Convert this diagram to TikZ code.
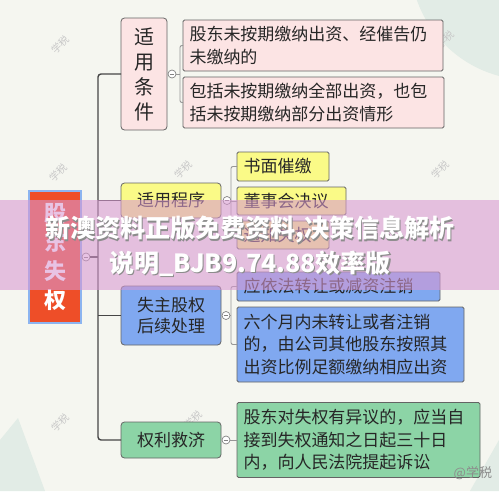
\documentclass[tikz,border=0pt]{standalone}
\usepackage{fontspec}
\setmainfont{Noto Sans CJK SC}
\definecolor{bgc}{RGB}{245,246,240}
\definecolor{boxline}{RGB}{100,100,100}
\definecolor{pinkc}{RGB}{252,228,228}
\definecolor{yellowc}{RGB}{250,250,135}
\definecolor{bluec}{RGB}{128,168,240}
\definecolor{greenc}{RGB}{140,212,166}
\definecolor{rootc}{RGB}{238,78,40}
\definecolor{rootb}{RGB}{140,180,240}
\definecolor{trunkc}{RGB}{70,70,70}
\definecolor{twigc}{RGB}{150,150,150}
\definecolor{knobc}{RGB}{130,130,130}
\definecolor{bannerc}{RGB}{217,152,209}
\definecolor{decoc}{RGB}{226,236,230}
\definecolor{wmc}{RGB}{200,200,200}
\begin{document}
\begin{tikzpicture}[x=1pt,y=-1pt,
  every node/.style={inner sep=0pt, outer sep=0pt},
  box/.style={draw=boxline, line width=0.8pt, rounded corners=1.5pt, anchor=north west},
  lvl/.style={box, rounded corners=3.5pt, align=center, font=\fontsize{17}{21}\selectfont, text=black!85},
  leaf/.style={box, align=left, inner xsep=6.5pt, font=\fontsize{17}{22.5}\selectfont, text=black!85},
  trunk/.style={draw=trunkc, line width=1.4pt, rounded corners=3pt},
  twig/.style={draw=twigc, line width=0.9pt, rounded corners=2pt},
  knob/.style={circle, draw=knobc, fill=white, line width=0.7pt, minimum size=8pt, inner sep=0pt,
    path picture={\draw[knobc, line width=0.6pt] ([xshift=-2.2pt]path picture bounding box.center) -- ([xshift=2.2pt]path picture bounding box.center);}},
  wm/.style={rotate=45, text=wmc, font=\fontsize{10}{10}\selectfont},
  banner/.style={text=white, font=\fontsize{25}{25}\selectfont\bfseries},
  bshadow/.style={text=black!45, font=\fontsize{25}{25}\selectfont\bfseries},
]
\useasboundingbox (0,0) rectangle (499,491);
\fill[bgc] (0,0) rectangle (499,491);
% decorative background shapes
\fill[decoc] (530,-40) circle (120);
\fill[decoc] (0,491) -- (0,440) -- (18,418) -- (45,491) -- cycle;
\fill[decoc] (470,491) -- (499,440) -- (499,491) -- cycle;
% watermarks
\node[wm] (w1) at (60,45) {学税};
\node[wm] (w2) at (58,173) {学税};
\node[wm] (w3) at (183,170) {学税};
\node[wm] (w4) at (440,170) {学税};
\node[wm] (w5) at (60,423) {学税};
\node[wm] (w6) at (193,420) {学税};
\node[wm] (w7) at (445,40) {学税};

% root
\node[box, fill=rootc, draw=rootb, line width=1.2pt, rounded corners=0pt,
  minimum width=52pt, minimum height=132pt, align=center, text=white,
  font=\fontsize{22}{29}\selectfont\bfseries] (root) at (29,191) {股\\东\\失\\权};

% level 1
\node[lvl, fill=pinkc, minimum width=46pt, minimum height=112pt,
  font=\fontsize{20}{25}\selectfont] (n1) at (121,18) {适\\用\\条\\件};
\node[lvl, fill=yellowc, minimum width=100pt, minimum height=35pt] (n2) at (121,183) {适用程序};
\node[lvl, fill=bluec, minimum width=100pt, minimum height=59pt] (n3) at (121,286) {失主股权\\后续处理};
\node[lvl, fill=greenc, minimum width=100pt, minimum height=36pt] (n4) at (121,422) {权利救济};

% leaves
\node[leaf, fill=pinkc, minimum width=260pt, text width=247pt, minimum height=51pt] (c11) at (183,20)
  {股东未按期缴纳出资、经催告仍\\未缴纳的};
\node[leaf, fill=pinkc, minimum width=261pt, text width=248pt, minimum height=51pt] (c12) at (183,77)
  {包括未按期缴纳全部出资，也包\\括未按期缴纳部分出资情形};
\node[leaf, fill=yellowc, minimum width=92pt, text width=79pt, minimum height=29pt] (c21) at (237,152) {书面催缴};
\node[leaf, fill=yellowc, minimum width=109pt, text width=96pt, minimum height=28pt] (c22) at (237,187) {董事会决议};
\node[leaf, fill=yellowc, minimum width=92pt, text width=79pt, minimum height=28pt] (c23) at (237,221) {通知失权};
\node[leaf, fill=bluec, minimum width=203pt, text width=190pt, minimum height=29pt] (c31) at (237,272) {应依法转让或减资注销};
\node[leaf, fill=bluec, minimum width=227pt, text width=214pt, minimum height=75pt] (c32) at (237,307)
  {六个月内未转让或者注销\\的，由公司其他股东按照其\\出资比例足额缴纳相应出资};
\node[leaf, fill=greenc, minimum width=243pt, text width=230pt, minimum height=75pt] (c41) at (237,402.5)
  {股东对失权有异议的，应当自\\接到失权通知之日起三十日\\内，向人民法院提起诉讼};

% knobs and junctions
\node[knob] (k0) at (86,257) {};
\coordinate (tr) at (98,257);
\node[knob] (k1) at (172,74) {};
\coordinate (b1) at (180,74);
\node[knob] (k2) at (227,200.5) {};
\coordinate (b2) at (231,200.5);
\node[knob] (k3) at (226,315.5) {};
\coordinate (b3) at (231,315.5);
\node[knob] (k4) at (226,440) {};

% trunk
\draw[trunk] (k0.east) -- (tr);
\draw[trunk] (n1.west) -| (tr) |- (n4.west);
\draw[trunk] (n2.west -| tr) -- (n2.west);
\draw[trunk] (n3.west -| tr) -- (n3.west);

% twigs
\draw[twig] (k1.east) -- (b1);
\draw[twig] (c11.west) -| (b1) |- (c12.west);
\draw[twig] (k2.east) -- (b2);
\draw[twig] (c21.west) -| (b2) |- (c23.west);
\draw[twig] (b2 |- c22.west) -- (c22.west);
\draw[twig] (k3.east) -- (b3);
\draw[twig] (c31.west) -| (b3) |- (c32.west);
\draw[twig] (k4.east) -- (c41.west);

% credit
\node[text=black!45, font=\fontsize{13}{13}\selectfont, anchor=east] (cr) at (492,473) {@学税};

% overlay banner
\fill[bannerc, opacity=0.58] (0,200) rectangle (499,290);
\node[bshadow] (bs1) at (251.2,231.2) {新澳资料正版免费资料,决策信息解析};
\node[banner] (bt1) at (250,230) {新澳资料正版免费资料,决策信息解析};
\node[bshadow] (bs2) at (251.2,265.2) {说明\_BJB9.74.88效率版};
\node[banner] (bt2) at (250,264) {说明\_BJB9.74.88效率版};
\end{tikzpicture}
\end{document}
